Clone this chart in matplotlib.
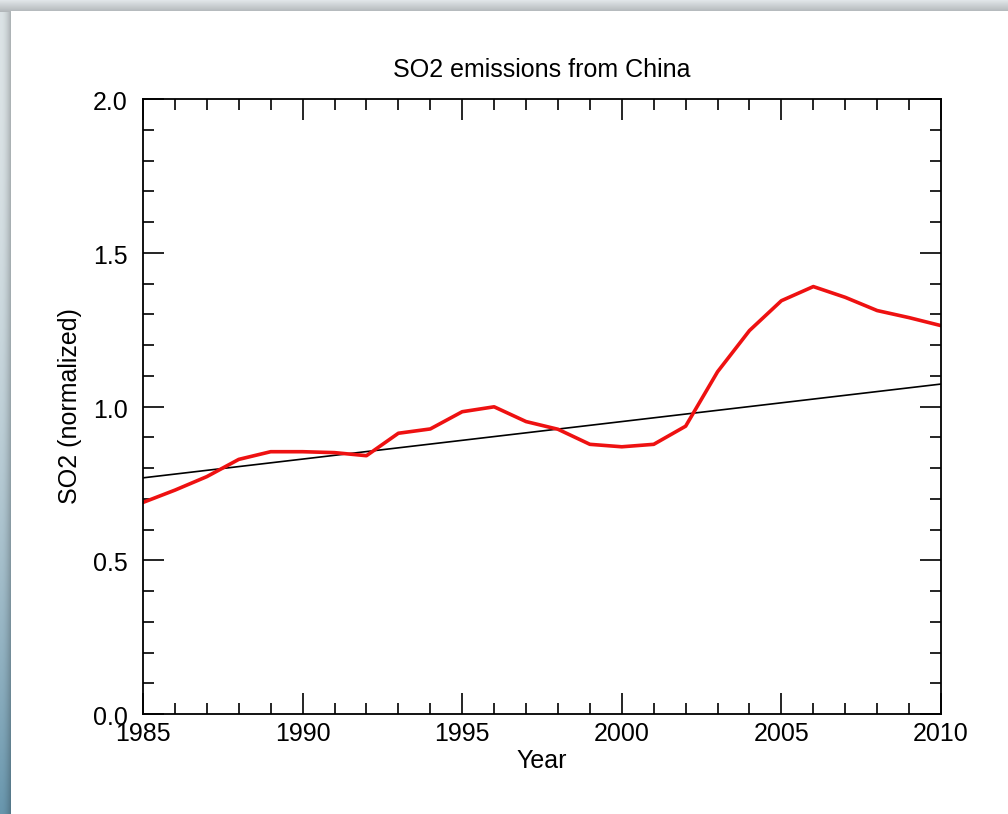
import numpy as np
import matplotlib.pyplot as plt
import matplotlib.transforms as mtransforms
from matplotlib.patches import Rectangle
from matplotlib.ticker import MultipleLocator

plt.rcParams['font.family'] = ['Liberation Sans', 'DejaVu Sans']

# normalized SO2 emissions from China, one value per year
years = np.arange(1985, 2011)
so2 = [0.688, 0.728, 0.772, 0.828, 0.853, 0.853, 0.850, 0.840, 0.913, 0.927,
       0.983, 0.999, 0.951, 0.926, 0.877, 0.869, 0.877, 0.936, 1.113, 1.247,
       1.344, 1.390, 1.355, 1.312, 1.289, 1.263]

# linear trend, end points
trend_years = [1985, 2010]
trend_vals = [0.768, 1.073]

W, H = 1008, 814
fig = plt.figure(figsize=(W / 100, H / 100), dpi=100)
fig.patch.set_facecolor('#dde1e4')

# slide frame: gray top strip, bluish left strip, white card
bg = fig.add_axes([0, 0, 1, 1], zorder=-5)
bg.set_xlim(0, W)
bg.set_ylim(H, 0)
bg.axis('off')
top = np.linspace(0, 1, 12)[:, None]
top_rgb = np.dstack([0.88 - 0.18 * top, 0.90 - 0.18 * top, 0.91 - 0.18 * top])
top_rgb = np.repeat(top_rgb, 4, axis=1)
bg.imshow(top_rgb, extent=[0, W, 12, 0], aspect='auto', interpolation='bilinear')
v = np.linspace(0, 1, 200)[:, None]
h = np.linspace(0, 1, 12)[None, :]
shade = 1 - 0.25 * h ** 2
r = (0.86 - 0.45 * v ** 2) * shade
g = (0.89 - 0.30 * v ** 2) * shade
b = (0.90 - 0.22 * v ** 2) * shade
bg.imshow(np.dstack([r, g, b]), extent=[0, 12, H, 12], aspect='auto',
          interpolation='bilinear')
bg.add_patch(Rectangle((11, 11), W, H, facecolor='white', edgecolor='none'))

ax = fig.add_axes([143 / W, 1 - 714 / H, 798 / W, 615 / H])
ax.set_facecolor('none')
ax.plot(trend_years, trend_vals, color='black', lw=1.2)
ax.plot(years, so2, color='#ee1111', lw=2.6)

ax.set_xlim(1985, 2010)
ax.set_ylim(0, 2.0)
ax.xaxis.set_major_locator(MultipleLocator(5))
ax.xaxis.set_minor_locator(MultipleLocator(1))
ax.yaxis.set_major_locator(MultipleLocator(0.5))
ax.yaxis.set_minor_locator(MultipleLocator(0.1))
ax.yaxis.set_major_formatter(lambda val, pos: f'{val:.1f}')
ax.tick_params(which='both', direction='in', top=True, right=True,
               width=1.2, color='black', labelsize=18)
ax.tick_params(which='major', length=15)
ax.tick_params(which='minor', length=8)
ax.tick_params(axis='x', pad=6)
ax.tick_params(axis='y', pad=11)
# y labels sit a little below their ticks
shift = mtransforms.ScaledTranslation(0, -4 / 100, fig.dpi_scale_trans)
for lbl in ax.get_yticklabels():
    lbl.set_verticalalignment('center')
    lbl.set_transform(lbl.get_transform() + shift)
for s in ax.spines.values():
    s.set_linewidth(1.3)

ax.set_title('SO2 emissions from China', fontsize=18, pad=16)
ax.set_xlabel('Year', fontsize=18, labelpad=2)
ax.set_ylabel('SO2 (normalized)', fontsize=18, labelpad=8)

fig.savefig('out.png', dpi=100)
